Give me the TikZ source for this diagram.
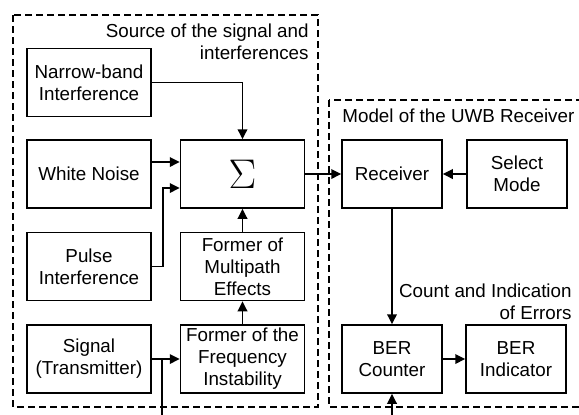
\documentclass[tikz,border=0pt]{standalone}
\usepackage{fontspec}
\setmainfont{Liberation Sans}
\usetikzlibrary{calc,positioning,arrows.meta}

\begin{document}
\begin{tikzpicture}[x=0.5pt,y=-0.5pt]
        \tikzset{>={Triangle[length=5pt,width=4.8pt]}}
        \tikzstyle{arr} = [line width=0.75pt],
        \tikzstyle{block} = [shape=rectangle, align=center, draw, line width=0.75pt, minimum width=62pt, minimum height=34pt, inner sep=1pt, font=\fontsize{9.4}{11}\selectfont],
        \tikzstyle{rxblock} = [block, minimum width=50pt],
        \tikzstyle{frame} = [draw, line width=0.75pt, dash pattern=on 3.5pt off 2pt],
        \tikzstyle{caption} = [align=right, inner sep=0pt, font=\fontsize{9.4}{11}\selectfont],
        \useasboundingbox (0,0) rectangle (579,414);

        % source of the signal and interferences
        \node [block, name=narrow] at (89,82.5) {Narrow-band\\Interference};
        \node [block, name=white] at (89,174) {White Noise};
        \node [block, name=pulse] at (89,266.5) {Pulse\\Interference};
        \node [block, name=signal] at (89,359) {Signal\\(Transmitter)};
        \node [block, name=sigma, font=\fontsize{21}{22}\selectfont] at (242.5,174) {$\Sigma$};
        \node [block, name=multipath] at (242.5,266.5) {Former of\\Multipath\\Effects};
        \node [block, name=freq] at (242.5,359) {Former of the\\Frequency\\Instability};

        % model of the receiver
        \node [rxblock, name=receiver] at (392,174) {Receiver};
        \node [rxblock, name=select] at (517,174) {Select\\Mode};
        \node [rxblock, name=counter] at (392,359) {BER\\Counter};
        \node [rxblock, name=indicator] at (516,359) {BER\\Indicator};

        \node [caption, anchor=north east] at (309,23.5) {Source of the signal and\\interferences};
        \node [caption, anchor=base west] at (342,122) {Model of the UWB Receiver};
        \node [caption, anchor=north east] at (572,283) {Count and Indication\\of Errors};

        \draw [frame] (13,15) rectangle (318,407);
        \draw [frame] (329,100) rectangle (600,407);

        % arrows
        \draw [arr,->] (narrow.east) -| (sigma.north);
        \draw [arr,->] ($(white.east)+(0,-12)$) -- ($(sigma.west)+(0,-12)$);
        \draw [arr,->] (pulse.east) -- ++(11,0) |- ($(sigma.west)+(0,14)$);
        \draw [arr,->] (signal.east) -- (freq.west);
        \draw [arr,->] (freq.north) -- (multipath.south);
        \draw [arr,->] (multipath.north) -- (sigma.south);

        \coordinate (tap) at ($(signal.east)+(10,0)$);
        \coordinate (tapend) at (tap |- 0,420);
        \draw [arr] (tap) -- (tapend);

        \draw [arr,->] (sigma.east) -- (receiver.west);
        \draw [arr,->] (select.west) -- (receiver.east);
        \draw [arr,->] (receiver.south) -- (counter.north);
        \draw [arr,->] (counter.east) -- (indicator.west);

        \coordinate (errin) at (counter.south |- 0,420);
        \draw [arr,->] (errin) -- (counter.south);

\end{tikzpicture}
\end{document}
